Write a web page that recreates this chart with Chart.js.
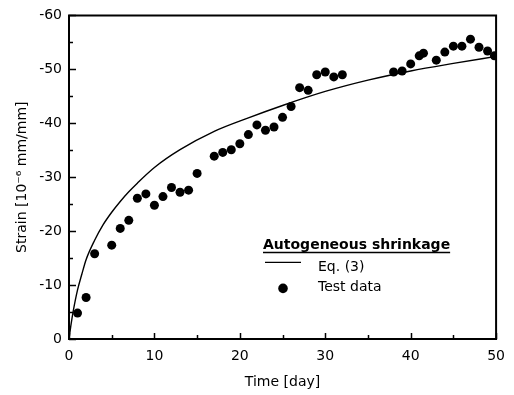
<!DOCTYPE html>
<html>
<head>
<meta charset="utf-8">
<script src="https://cdn.jsdelivr.net/npm/chart.js@4/dist/chart.umd.min.js"></script>
<style>
html, body { margin:0; padding:0; background:#fff; }
</style>
</head>
<body>
<canvas id="Chart" width="514" height="395"></canvas>
<script>

// test data
var testDays = [1, 2, 3, 5, 6, 7, 8, 9, 10, 11, 12, 13, 14, 15,
	17, 18, 19, 20, 21, 22, 23, 24, 25, 26, 27, 28, 29, 30, 31, 32,
	38, 39, 40, 41, 41.5, 43, 44, 45, 46, 47, 48, 49, 49.8];
var testStrain = [-4.8, -7.7, -15.8, -17.4, -20.5, -22.0, -26.1, -26.9, -24.8, -26.4, -28.1, -27.2, -27.6, -30.7,
	-33.9, -34.6, -35.1, -36.2, -37.9, -39.7, -38.7, -39.3, -41.1, -43.1, -46.6, -46.1, -49.0, -49.5, -48.6, -49.0,
	-49.5, -49.7, -51.0, -52.5, -53.0, -51.7, -53.2, -54.3, -54.3, -55.6, -54.1, -53.4, -52.5];

// Eq. (3) curve, sampled from the figure
var eqDays = [0, 0.25, 0.5, 1, 1.5, 2, 3, 4, 5, 6, 7, 8, 10, 13, 17, 21, 25, 30, 35, 40, 45, 50];
var eqStrain = [0, -2.8, -5.2, -9.1, -12.0, -14.7, -18.3, -21.2, -23.5, -25.5, -27.3, -28.9, -31.8, -35.1, -38.5, -41.0, -43.3, -45.9, -48.0, -49.7, -51.1, -52.4];

var xTicks = [0, 10, 20, 30, 40, 50];
var yTicks = [0, -10, -20, -30, -40, -50, -60];

var legendTitle = 'Autogeneous shrinkage';
var legendNames = ['Eq. (3)', 'Test data'];

var FONT = '"DejaVu Sans", Verdana, sans-serif';

// frame + inward ticks
var frameTicks = {
	id: 'frameTicks',
	afterDatasetsDraw: function(chart) {
		var ctx = chart.ctx;
		var a = chart.chartArea;
		var xs = chart.scales.x, ys = chart.scales.y;
		ctx.save();
		ctx.strokeStyle = '#000';
		ctx.lineCap = 'butt';
		// y ticks
		ctx.lineWidth = 1.5;
		for (var v = -60; v <= 0; v += 5) {
			var py = Math.round(ys.getPixelForValue(v)) + 0.5;
			var len = (v % 10 == 0) ? 7 : 4;
			ctx.beginPath();
			ctx.moveTo(a.left, py);
			ctx.lineTo(a.left + len, py);
			ctx.stroke();
		}
		for (var t = 0; t <= 50; t += 5) {
			var px = Math.round(xs.getPixelForValue(t)) + 0.5;
			var l2 = (t % 10 == 0) ? 6 : 4;
			ctx.beginPath();
			ctx.moveTo(px, a.bottom);
			ctx.lineTo(px, a.bottom - l2);
			ctx.stroke();
		}
		// box
		ctx.lineWidth = 2;
		ctx.beginPath();
		ctx.moveTo(a.left, a.top);
		ctx.lineTo(a.right, a.top);
		ctx.lineTo(a.right, a.bottom);
		ctx.lineTo(a.left, a.bottom);
		ctx.closePath();
		ctx.stroke();
		ctx.restore();
	},
	afterDraw: function(chart) {
		var ctx = chart.ctx;
		var a = chart.chartArea;
		var lx = a.left + 194, ly = a.top + 234;
		ctx.save();
		ctx.fillStyle = '#000';
		ctx.strokeStyle = '#000';
		ctx.textBaseline = 'alphabetic';
		ctx.font = 'bold 14px ' + FONT;
		ctx.fillText(legendTitle, lx, ly);
		var w = ctx.measureText(legendTitle).width;
		ctx.lineWidth = 1.5;
		ctx.beginPath();
		ctx.moveTo(lx, ly + 3);
		ctx.lineTo(lx + w, ly + 3);
		ctx.stroke();
		ctx.font = '14px ' + FONT;
		// line sample
		ctx.lineWidth = 1.2;
		ctx.beginPath();
		ctx.moveTo(lx + 2, ly + 13);
		ctx.lineTo(lx + 38, ly + 13);
		ctx.stroke();
		ctx.fillText(legendNames[0], lx + 55, ly + 22);
		// dot sample
		ctx.beginPath();
		ctx.arc(lx + 20, ly + 39, 4.8, 0, Math.PI * 2);
		ctx.fill();
		ctx.fillText(legendNames[1], lx + 55, ly + 42);
		ctx.restore();
	}
};

function createchart1() {
	var curve = eqDays.map(function(d, i) { return { x: d, y: eqStrain[i] }; });
	var points = testDays.map(function(d, i) { return { x: d, y: testStrain[i] }; });

	var ctx = document.getElementById('Chart').getContext('2d');
	var chart = new Chart(ctx, {
		type: 'scatter',
		data: {
			datasets: [{
				label: legendNames[0],
				data: curve,
				showLine: true,
				borderColor: '#000',
				borderWidth: 1.4,
				pointRadius: 0,
				cubicInterpolationMode: 'monotone',
				clip: 0
			}, {
				label: legendNames[1],
				data: points,
				showLine: false,
				pointRadius: 4.5,
				pointHoverRadius: 4.5,
				backgroundColor: '#000',
				borderColor: '#000',
				borderWidth: 0,
				clip: 0
			}]
		},
		options: {
			responsive: false,
			animation: false,
			devicePixelRatio: 1,
			layout: { padding: { top: 11, right: 16, left: 0, bottom: 0 } },
			plugins: {
				legend: { display: false },
				tooltip: { enabled: false }
			},
			scales: {
				x: {
					type: 'linear',
					min: 0, max: 50,
					afterFit: function(s) { s.height = 56; },
					afterBuildTicks: function(s) { s.ticks = xTicks.map(function(v) { return { value: v }; }); },
					grid: { display: true, drawOnChartArea: false, drawTicks: false, color: 'rgba(0,0,0,0)' },
					border: { display: false },
					ticks: { padding: 9, color: '#000', font: { family: FONT, size: 14 } },
					title: {
						display: true,
						text: 'Time [day]',
						color: '#000',
						padding: { top: 0, bottom: 4 },
						font: { family: FONT, size: 14 }
					}
				},
				y: {
					type: 'linear',
					min: -60, max: 0,
					reverse: true,
					afterFit: function(s) { s.width = 69; },
					afterBuildTicks: function(s) { s.ticks = yTicks.map(function(v) { return { value: v }; }); },
					grid: { display: true, drawOnChartArea: false, drawTicks: false, color: 'rgba(0,0,0,0)' },
					border: { display: false },
					ticks: { padding: 7, color: '#000', font: { family: FONT, size: 14 } },
					title: {
						display: true,
						text: 'Strain [10\u207B\u2076 mm/mm]',
						color: '#000',
						padding: { top: 14, bottom: 0 },
						font: { family: FONT, size: 14 }
					}
				}
			}
		},
		plugins: [frameTicks]
	});
}

createchart1();
</script>
</body>
</html>
